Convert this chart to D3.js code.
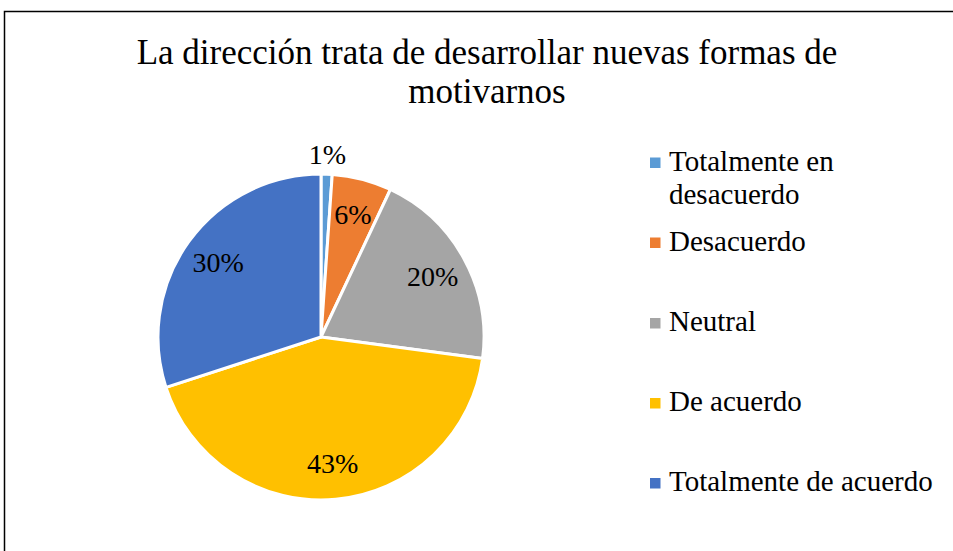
<!DOCTYPE html>
<html>
<head>
<meta charset="utf-8">
<script src="https://cdn.jsdelivr.net/npm/d3@7"></script>
<style>
  body { margin: 0; background: #fff; }
</style>
</head>
<body>
<svg width="953" height="551"></svg>
<script>
'use strict';

const categories = ['Totalmente en desacuerdo', 'Desacuerdo', 'Neutral', 'De acuerdo', 'Totalmente de acuerdo'];
const values = [1.1, 5.9, 20.1, 42.9, 30.0];
const labels = ['1%', '6%', '20%', '43%', '30%'];
const colors = ['#5b9bd5', '#ed7d31', '#a5a5a5', '#ffc000', '#4472c4'];
const titleLines = ['La dirección trata de desarrollar nuevas formas de', 'motivarnos'];

const svg = d3.select('svg');
const serif = '"Liberation Serif"';

// chart border
svg.append('rect')
    .attr('x', 4.5).attr('y', 11.5)
    .attr('width', 960).attr('height', 560)
    .attr('fill', 'none')
    .attr('stroke', '#000')
    .attr('stroke-width', 1.5);

svg.selectAll('.title')
    .data(titleLines)
    .enter()
    .append('text')
        .attr('class', 'title')
        .attr('x', 487)
        .attr('y', (d, i) => 63.5 + i * 39.5)
        .attr('text-anchor', 'middle')
        .style('font-family', serif)
        .attr('font-size', 35)
        .text(d => d);

const cx = 321, cy = 337, r = 163;

const pie = d3.pie().sort(null).value(d => d);
const arcs = pie(values);
const arc = d3.arc().innerRadius(0).outerRadius(r);

const g = svg.append('g').attr('transform', `translate(${cx},${cy})`);

g.selectAll('path')
    .data(arcs)
    .enter()
    .append('path')
        .attr('d', arc)
        .attr('fill', (d, i) => colors[i])
        .attr('stroke', '#fff')
        .attr('stroke-width', 3)
        .attr('stroke-linejoin', 'round');

// label radius: small slice sits outside the pie
const labelArc = d3.arc().innerRadius(r * 0.78).outerRadius(r * 0.78);
const outerArc = d3.arc().innerRadius(r * 1.12).outerRadius(r * 1.12);

g.selectAll('.lbl')
    .data(arcs)
    .enter()
    .append('text')
        .attr('class', 'lbl')
        .attr('text-anchor', 'middle')
        .attr('dy', '0.35em')
        .style('font-family', serif)
        .attr('font-size', 28)
        .attr('transform', (d, i) => {
            const p = (i === 0 ? outerArc : labelArc).centroid(d);
            return `translate(${p[0]}, ${p[1]})`;
        })
        .text((d, i) => labels[i]);

// legend (baselines)
const legendY = [170.5, 250.5, 331, 411, 491];
const legend = svg.selectAll('.leg')
    .data(categories)
    .enter()
    .append('g')
        .attr('class', 'leg')
        .attr('transform', (d, i) => `translate(650, ${legendY[i]})`);

legend.append('rect')
    .attr('x', 0).attr('y', -13)
    .attr('width', 10.5).attr('height', 10.5)
    .attr('fill', (d, i) => colors[i]);

legend.append('text')
    .attr('x', 19)
    .attr('y', 0)
    .style('font-family', serif)
    .attr('font-size', 29)
    .each(function (d) {
        const t = d3.select(this);
        const lines = d === 'Totalmente en desacuerdo' ? ['Totalmente en', 'desacuerdo'] : [d];
        lines.forEach((l, k) => {
            t.append('tspan').attr('x', 19).attr('dy', k === 0 ? 0 : 33).text(l);
        });
    });
</script>
</body>
</html>
